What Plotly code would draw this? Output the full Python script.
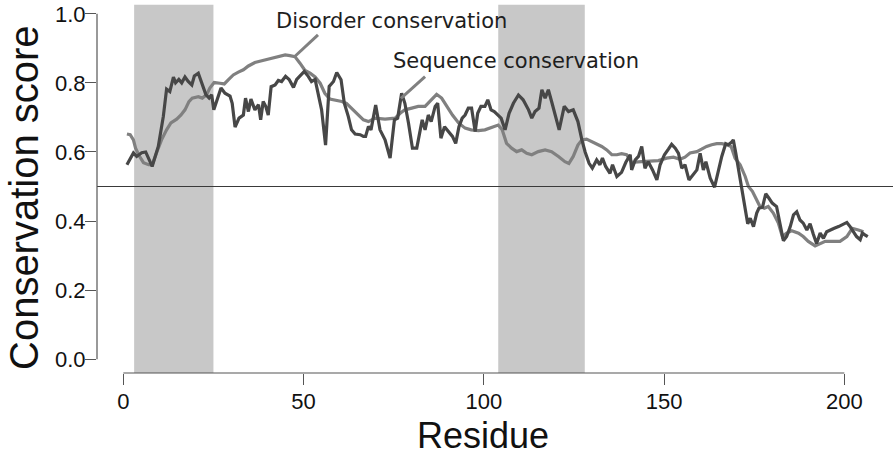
import plotly.graph_objects as go

# Sequence conservation (dark, jagged trace): residue position and score
seq_residue = [1.0, 2.8, 3.7, 5.1, 6.2, 8.0, 9.7, 11.1, 12.0, 12.9, 13.9, 14.5, 15.4, 16.2, 17.1, 18.0,
               19.0, 19.7, 20.8, 21.7, 22.9, 23.8, 24.5, 25.1, 25.9, 27.1, 28.2, 29.6, 30.2, 31.0, 32.1,
               33.3, 33.9, 34.7, 35.4, 36.5, 37.5, 38.1, 38.8, 39.5, 40.2, 41.0, 42.1, 43.0, 43.9, 45.0,
               46.0, 47.2, 48.1, 49.0, 50.2, 51.3, 52.2, 53.2, 54.1, 55.0, 56.1, 57.1, 58.3, 59.2, 60.4,
               61.3, 62.4, 63.3, 64.3, 65.7, 66.6, 67.2, 68.0, 68.7, 70.0, 71.2, 72.6, 74.0, 75.2, 76.1,
               77.2, 78.1, 79.1, 80.2, 81.4, 82.3, 82.9, 83.7, 84.6, 85.4, 86.5, 87.2, 88.1, 89.1, 90.2,
               91.3, 92.2, 93.1, 94.0, 94.8, 95.7, 96.6, 97.6, 98.3, 99.2, 100.3, 101.1, 102.0, 102.9,
               103.8, 104.8, 105.9, 107.0, 108.2, 109.6, 110.9, 112.4, 113.3, 114.2, 115.3, 116.1, 117.0,
               117.9, 118.8, 119.8, 120.9, 122.3, 123.5, 124.8, 126.1, 127.2, 128.1, 129.2, 130.1, 131.3,
               132.2, 132.9, 133.8, 135.0, 135.7, 136.9, 138.2, 139.4, 140.6, 141.0, 142.0, 142.9, 143.8,
               144.7, 145.6, 146.8, 148.0, 148.9, 150.1, 151.2, 152.1, 153.1, 154.0, 154.9, 155.8, 156.9,
               157.9, 159.1, 160.0, 160.9, 161.6, 162.8, 164.0, 165.1, 166.0, 167.1, 167.8, 168.6, 169.2,
               169.9, 170.8, 171.7, 172.5, 173.2, 173.9, 174.8, 175.7, 176.3, 177.3, 178.2, 179.1, 180.0,
               181.2, 182.2, 183.1, 184.0, 185.0, 185.9, 186.8, 187.7, 188.6, 189.6, 190.5, 191.4, 192.3,
               193.3, 194.2, 195.1, 196.0, 197.2, 198.4, 199.5, 200.7, 201.6, 202.5, 203.4, 204.4, 205.0,
               205.7, 206.5]
seq_score = [0.563, 0.597, 0.587, 0.598, 0.600, 0.558, 0.616, 0.703, 0.782, 0.775, 0.817, 0.800, 0.810,
             0.800, 0.817, 0.804, 0.794, 0.820, 0.828, 0.799, 0.766, 0.756, 0.766, 0.722, 0.746, 0.785,
             0.770, 0.762, 0.741, 0.672, 0.698, 0.707, 0.756, 0.717, 0.753, 0.722, 0.737, 0.693, 0.746,
             0.732, 0.707, 0.789, 0.794, 0.807, 0.804, 0.819, 0.810, 0.787, 0.810, 0.819, 0.833, 0.819,
             0.804, 0.810, 0.766, 0.722, 0.620, 0.790, 0.804, 0.830, 0.809, 0.741, 0.703, 0.664, 0.652,
             0.650, 0.645, 0.645, 0.674, 0.664, 0.736, 0.664, 0.635, 0.582, 0.693, 0.698, 0.770, 0.741,
             0.684, 0.611, 0.611, 0.654, 0.693, 0.664, 0.707, 0.688, 0.732, 0.741, 0.640, 0.673, 0.659,
             0.645, 0.625, 0.673, 0.698, 0.707, 0.727, 0.727, 0.659, 0.712, 0.732, 0.732, 0.751, 0.722,
             0.717, 0.707, 0.698, 0.664, 0.712, 0.741, 0.765, 0.751, 0.722, 0.698, 0.717, 0.727, 0.780,
             0.756, 0.780, 0.746, 0.707, 0.664, 0.732, 0.717, 0.722, 0.688, 0.635, 0.600, 0.567, 0.553,
             0.577, 0.563, 0.582, 0.558, 0.538, 0.563, 0.529, 0.541, 0.570, 0.592, 0.548, 0.577, 0.587,
             0.616, 0.553, 0.572, 0.548, 0.519, 0.563, 0.592, 0.608, 0.622, 0.611, 0.596, 0.553, 0.563,
             0.519, 0.534, 0.548, 0.596, 0.548, 0.572, 0.524, 0.498, 0.548, 0.587, 0.624, 0.621, 0.627,
             0.635, 0.596, 0.543, 0.480, 0.432, 0.392, 0.408, 0.384, 0.423, 0.437, 0.440, 0.479, 0.466,
             0.452, 0.442, 0.394, 0.343, 0.355, 0.384, 0.418, 0.427, 0.403, 0.394, 0.374, 0.392, 0.362,
             0.335, 0.365, 0.350, 0.369, 0.374, 0.379, 0.384, 0.389, 0.396, 0.384, 0.369, 0.355, 0.346,
             0.365, 0.360, 0.355]

# Disorder conservation (light, smoother trace)
dis_residue = [1.0, 1.9, 2.8, 3.4, 4.4, 5.6, 7.0, 8.0, 9.3, 10.6, 12.0, 13.2, 14.8, 16.0, 17.1, 18.2,
               19.1, 20.8, 21.9, 23.1, 24.0, 25.2, 26.8, 28.0, 29.1, 30.5, 31.9, 33.3, 34.7, 36.5, 38.4,
               40.2, 42.1, 43.5, 44.9, 46.2, 47.6, 49.0, 50.4, 51.8, 53.2, 54.6, 55.9, 57.3, 58.7, 60.6,
               61.9, 63.3, 64.7, 66.6, 68.0, 69.8, 72.6, 75.4, 76.8, 78.1, 80.0, 81.8, 83.7, 85.5, 86.9,
               88.3, 89.7, 91.3, 93.0, 94.8, 96.5, 98.5, 100.3, 102.2, 104.0, 105.1, 106.3, 107.7, 109.1,
               110.5, 111.9, 113.3, 115.1, 117.0, 118.8, 120.7, 122.5, 123.6, 124.8, 126.1, 127.2, 128.5,
               129.9, 131.3, 132.7, 134.1, 135.5, 136.9, 138.2, 139.6, 141.0, 143.8, 146.6, 148.4, 150.7,
               152.6, 154.4, 155.8, 157.2, 159.1, 160.4, 161.8, 163.2, 164.6, 166.0, 167.4, 168.6, 169.7,
               171.1, 172.5, 173.4, 174.5, 175.7, 176.6, 177.8, 178.9, 180.3, 181.7, 182.8, 184.0, 185.4,
               187.3, 188.6, 190.0, 191.9, 193.3, 194.7, 196.5, 198.8, 200.7, 202.2, 203.9, 205.3]
dis_score = [0.652, 0.650, 0.635, 0.611, 0.589, 0.569, 0.563, 0.563, 0.600, 0.635, 0.664, 0.684, 0.695,
             0.707, 0.722, 0.746, 0.756, 0.760, 0.756, 0.766, 0.785, 0.801, 0.799, 0.797, 0.809, 0.823,
             0.831, 0.838, 0.849, 0.859, 0.864, 0.869, 0.872, 0.878, 0.881, 0.879, 0.876, 0.857, 0.836,
             0.828, 0.817, 0.799, 0.770, 0.753, 0.751, 0.746, 0.741, 0.727, 0.712, 0.693, 0.688, 0.698,
             0.695, 0.698, 0.712, 0.722, 0.727, 0.732, 0.732, 0.751, 0.767, 0.756, 0.732, 0.707, 0.684,
             0.669, 0.664, 0.662, 0.664, 0.672, 0.678, 0.664, 0.625, 0.611, 0.601, 0.606, 0.596, 0.592,
             0.601, 0.606, 0.601, 0.587, 0.572, 0.567, 0.587, 0.620, 0.635, 0.637, 0.630, 0.625, 0.616,
             0.606, 0.592, 0.592, 0.595, 0.592, 0.570, 0.572, 0.573, 0.575, 0.582, 0.585, 0.579, 0.585,
             0.597, 0.601, 0.608, 0.616, 0.621, 0.624, 0.624, 0.621, 0.616, 0.582, 0.563, 0.529, 0.500,
             0.486, 0.461, 0.442, 0.437, 0.442, 0.423, 0.394, 0.355, 0.365, 0.372, 0.365, 0.355, 0.341,
             0.328, 0.335, 0.341, 0.341, 0.341, 0.355, 0.379, 0.374, 0.369]

# Highlighted residue spans
regions = [(3, 25), (104, 128)]
threshold = 0.5

x_ticks = [0, 50, 100, 150, 200]
y_ticks = [0.0, 0.2, 0.4, 0.6, 0.8, 1.0]
y_tick_text = ["0.0", "0.2", "0.4", "0.6", "0.8", "1.0"]

DARK = "#474747"
LIGHT = "#808080"
AXIS = "#555555"

fig = go.Figure()

fig.add_trace(go.Scatter(x=dis_residue, y=dis_score, mode="lines",
                         line=dict(color=LIGHT, width=3.2), name="Disorder conservation",
                         showlegend=False))
fig.add_trace(go.Scatter(x=seq_residue, y=seq_score, mode="lines",
                         line=dict(color=DARK, width=3.2), name="Sequence conservation",
                         showlegend=False))

shapes = []
for x0, x1 in regions:
    shapes.append(dict(type="rect", xref="x", yref="paper", x0=x0, x1=x1, y0=0, y1=0.987,
                       fillcolor="#c8c8c8", line=dict(width=0), layer="below"))
# threshold line across the plotting region
shapes.append(dict(type="line", xref="paper", yref="y", x0=0, x1=1, y0=threshold, y1=threshold,
                   line=dict(color="#3a3a3a", width=1.2)))
# axis lines spanning only the tick range
shapes.append(dict(type="line", xref="paper", yref="y", x0=0, x1=0, y0=y_ticks[0], y1=y_ticks[-1],
                   line=dict(color=AXIS, width=1.2)))
shapes.append(dict(type="line", xref="x", yref="paper", x0=x_ticks[0], x1=x_ticks[-1], y0=0, y1=0,
                   line=dict(color=AXIS, width=1.2)))
# leader lines from labels to their traces
shapes.append(dict(type="line", xref="x", yref="y", x0=47.4, y0=0.875, x1=54.0, y1=0.939,
                   line=dict(color=LIGHT, width=3)))
shapes.append(dict(type="line", xref="x", yref="y", x0=77.0, y0=0.755, x1=83.7, y1=0.818,
                   line=dict(color=LIGHT, width=3)))

annotations = [
    dict(text="Disorder conservation", x=74.3, y=0.978, xref="x", yref="y", showarrow=False,
         xanchor="center", yanchor="middle",
         font=dict(family="DejaVu Sans", size=21, color="#1e1e1e")),
    dict(text="Sequence conservation", x=108.8, y=0.864, xref="x", yref="y", showarrow=False,
         xanchor="center", yanchor="middle",
         font=dict(family="DejaVu Sans", size=21, color="#1e1e1e")),
    dict(text="Conservation score", x=-73 / 796, y=1 - 198 / 373, xref="paper", yref="paper",
         showarrow=False, textangle=-90, xanchor="center", yanchor="middle",
         font=dict(family="Liberation Sans", size=40, color="#111111")),
    dict(text="Residue", x=(483 - 97) / 796, y=-(436 - 373) / 373, xref="paper", yref="paper",
         showarrow=False, xanchor="center", yanchor="middle",
         font=dict(family="Liberation Sans", size=36, color="#111111")),
]

fig.update_layout(
    width=896, height=457,
    margin=dict(l=97, r=3, t=0, b=84),
    plot_bgcolor="white", paper_bgcolor="white",
    shapes=shapes, annotations=annotations,
    xaxis=dict(range=[-7.3, 213.5], tickvals=x_ticks, ticks="outside", ticklen=11,
               tickcolor=AXIS, tickwidth=1.2, showgrid=False, zeroline=False, showline=False,
               ticklabelstandoff=-2,
               tickfont=dict(family="Liberation Sans", size=22, color="#111111")),
    yaxis=dict(range=[-0.04, 1.04], tickvals=y_ticks, ticktext=y_tick_text, ticks="outside",
               ticklen=11, tickcolor=AXIS, tickwidth=1.2, showgrid=False, zeroline=False,
               showline=False, ticklabelstandoff=-5,
               tickfont=dict(family="Liberation Sans", size=22, color="#111111")),
)

fig.write_html("out.html")
